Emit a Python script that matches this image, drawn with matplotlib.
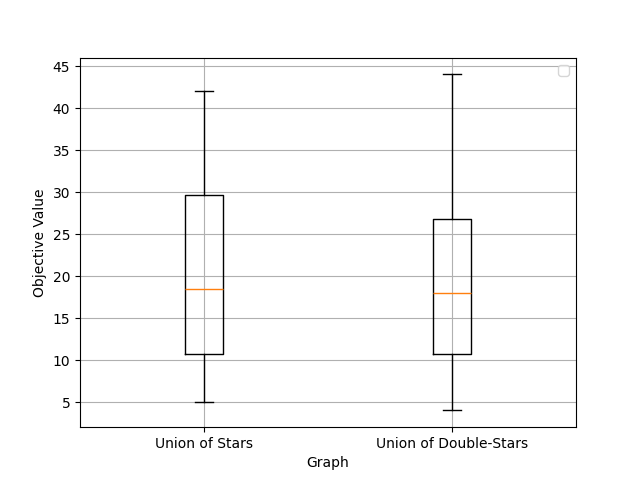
import matplotlib
matplotlib.use("Agg")
import matplotlib.pyplot as plt

labels = ["Union of Stars", "Union of Double-Stars"]
whislo = [5, 4]
q1 = [10.7, 10.7]
med = [18.5, 18.0]
q3 = [29.6, 26.8]
whishi = [42, 44]

stats = []
for i in range(len(labels)):
    stats.append({"label": labels[i], "whislo": whislo[i], "q1": q1[i],
                  "med": med[i], "q3": q3[i], "whishi": whishi[i], "fliers": []})

fig, ax = plt.subplots(figsize=(6.4, 4.8), dpi=100)
ax.bxp(stats)
ax.set_xlabel("Graph")
ax.set_ylabel("Objective Value")
ax.grid(True)
ax.legend(handles=[], labels=[])
fig.savefig("out.png")
